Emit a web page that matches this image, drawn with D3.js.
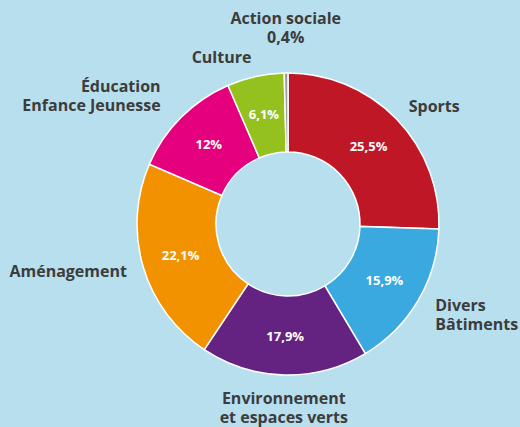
<!DOCTYPE html>
<html>
<head>
<meta charset="utf-8">
<script src="https://cdn.jsdelivr.net/npm/d3@7"></script>
<style>
  html, body { margin: 0; padding: 0; background: #b8dfee; }
  svg { display: block; }
  text { font-family: "Open Sans", sans-serif; font-weight: 700; }
</style>
</head>
<body>
<svg id="chart" width="520" height="427"></svg>
<script>
// budget split, clockwise from 12 o'clock
var categories = ['Sports', 'Divers\nBâtiments', 'Environnement\net espaces verts', 'Aménagement',
    'Éducation\nEnfance Jeunesse', 'Culture', 'Action sociale'];
var values = [25.5, 15.9, 17.9, 22.1, 12, 6.1, 0.4];
var valueLabels = ['25,5%', '15,9%', '17,9%', '22,1%', '12%', '6,1%', '0,4%'];
var colors = ['#c01727', '#39a9e0', '#652381', '#f39200', '#e5007d', '#95c11f', '#9d9d9c'];

var width = 520, height = 427;
var cx = 288, cy = 224;
var outerR = 151, innerR = 72;

var svg = d3.select('#chart');
var g = svg.append('g').attr('transform', 'translate(' + cx + ',' + cy + ')');

var data = categories.map(function (c, i) {
    return {name: c, value: values[i], label: valueLabels[i], color: colors[i]};
});

var pie = d3.pie()
    .sort(null)
    .value(function (d) { return d.value; });

var arcs = pie(data);

var arc = d3.arc().innerRadius(innerR).outerRadius(outerR);
var labelArc = d3.arc().innerRadius(112).outerRadius(112);

g.selectAll('path.slice')
    .data(arcs)
    .enter().append('path')
    .attr('class', 'slice')
    .attr('d', arc)
    .style('fill', function (d) { return d.data.color; })
    .style('stroke', '#ffffff')
    .style('stroke-width', 1.5);

// percentages inside the ring (the tiny slice gets its value outside)
g.selectAll('text.pct')
    .data(arcs.filter(function (d) { return d.data.value > 1; }))
    .enter().append('text')
    .attr('class', 'pct')
    .attr('transform', function (d) { return 'translate(' + labelArc.centroid(d) + ')'; })
    .attr('text-anchor', 'middle')
    .attr('dy', '0.35em')
    .style('fill', '#ffffff')
    .style('font-size', '13px')
    .text(function (d) { return d.data.label; });

// outer category labels
var labelRadius = {'Action sociale': 181, 'Éducation\nEnfance Jeunesse': 180, 'Divers\nBâtiments': 171, 'Culture': 170};
var labelNudge = {'Divers\nBâtiments': 5};
var lineH = 19;

arcs.forEach(function (d) {
    var mid = (d.startAngle + d.endAngle) / 2;
    var r = labelRadius[d.data.name] || 168;
    var x = r * Math.sin(mid), y = -r * Math.cos(mid) + (labelNudge[d.data.name] || 0);
    var lines = d.data.name.split('\n');
    if (d.data.value <= 1) lines.push(d.data.label);
    var s = Math.sin(mid), c = Math.cos(mid);
    var anchor = s > 0.2 ? 'start' : (s < -0.2 ? 'end' : 'middle');
    var firstBase;
    if (anchor === 'middle' && c < 0) {
        firstBase = y + 12;
    } else if (anchor === 'middle') {
        firstBase = y - (lines.length - 1) * lineH;
    } else {
        firstBase = y + 5 - (lines.length - 1) * lineH / 2;
    }
    var t = g.append('text')
        .attr('class', 'cat')
        .attr('text-anchor', anchor)
        .style('fill', '#3c3c3b')
        .style('font-size', '16px');
    lines.forEach(function (ln, i) {
        t.append('tspan')
            .attr('x', x)
            .attr('y', firstBase + i * lineH)
            .text(ln);
    });
});
</script>
</body>
</html>
